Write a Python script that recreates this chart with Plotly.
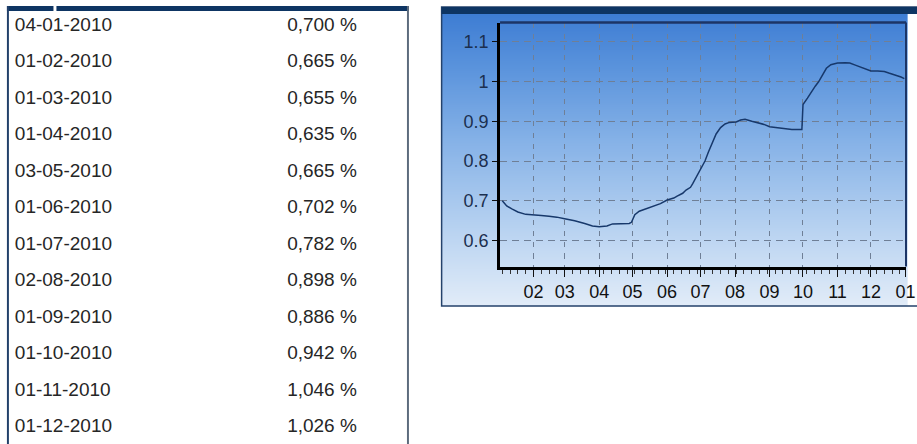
import numpy as np
import plotly.graph_objects as go

W, H = 917, 444

# Monthly fixings shown in the table
table_dates = ["04-01-2010", "01-02-2010", "01-03-2010", "01-04-2010", "03-05-2010", "01-06-2010",
               "01-07-2010", "02-08-2010", "01-09-2010", "01-10-2010", "01-11-2010", "01-12-2010"]
table_rates = [0.700, 0.665, 0.655, 0.635, 0.665, 0.702, 0.782, 0.898, 0.886, 0.942, 1.046, 1.026]

# Daily rate curve
curve_dates = [
    "2010-01-04", "2010-01-08", "2010-01-13", "2010-01-18", "2010-01-25", "2010-02-01", "2010-02-08",
    "2010-02-15", "2010-02-22", "2010-03-01", "2010-03-10", "2010-03-19", "2010-03-26", "2010-04-01",
    "2010-04-08", "2010-04-13", "2010-04-20", "2010-04-28", "2010-04-30", "2010-05-03", "2010-05-07",
    "2010-05-12", "2010-05-17", "2010-05-21", "2010-05-26", "2010-06-01", "2010-06-07", "2010-06-10",
    "2010-06-15", "2010-06-18", "2010-06-22", "2010-06-24", "2010-06-28", "2010-07-01", "2010-07-05",
    "2010-07-08", "2010-07-12", "2010-07-15", "2010-07-19", "2010-07-23", "2010-07-27", "2010-08-02",
    "2010-08-06", "2010-08-10", "2010-08-16", "2010-08-20", "2010-08-27", "2010-09-01", "2010-09-08",
    "2010-09-14", "2010-09-21", "2010-09-30", "2010-10-01", "2010-10-05", "2010-10-08", "2010-10-12",
    "2010-10-15", "2010-10-19", "2010-10-22", "2010-10-26", "2010-11-01", "2010-11-08", "2010-11-12",
    "2010-11-17", "2010-11-22", "2010-11-26", "2010-12-01", "2010-12-07", "2010-12-13", "2010-12-17",
    "2010-12-22", "2010-12-28", "2010-12-31",
]
curve_rates = [
    0.700, 0.687, 0.679, 0.672, 0.666, 0.665, 0.663,
    0.661, 0.659, 0.655, 0.650, 0.643, 0.637, 0.635,
    0.637, 0.642, 0.642, 0.643, 0.646, 0.665, 0.674,
    0.679, 0.683, 0.688, 0.693, 0.702, 0.707, 0.712,
    0.719, 0.727, 0.734, 0.743, 0.764, 0.782, 0.800,
    0.822, 0.848, 0.868, 0.884, 0.893, 0.897, 0.898,
    0.903, 0.905, 0.900, 0.897, 0.892, 0.886, 0.884,
    0.881, 0.879, 0.879, 0.942, 0.958, 0.972, 0.988,
    0.999, 1.018, 1.033, 1.042, 1.046, 1.047, 1.046,
    1.041, 1.035, 1.030, 1.026, 1.026, 1.025, 1.021,
    1.017, 1.011, 1.007,
]

y_ticks = [0.6, 0.7, 0.8, 0.9, 1.0, 1.1]
y_tick_labels = ["0.6", "0.7", "0.8", "0.9", "1", "1.1"]
y_range = [0.535, 1.148]
x_range = ["2010-01-02", "2011-01-01 12:00"]

FONT = "Liberation Sans, Arial, sans-serif"
NAVY = "#0e3563"

# pixel layout of the table and the chart panel
ROW0, ROW_STEP = 26, 36.5
TABLE_L, TABLE_R, TABLE_T = 7, 413, 6
PANEL_L, PANEL_T, PANEL_B = 446, 7, 306
PLOT_L, PLOT_R, PLOT_T, PLOT_B = 505, 915, 22.5, 266.5


def px(x):
    return x / W


def py(y):
    return 1 - y / H


fig = go.Figure()

# Vertical blue gradient behind the chart panel
grad = np.linspace(0, 1, 80)
fig.add_trace(go.Heatmap(
    x=[0, 1], y=grad, z=[[g, g] for g in grad],
    colorscale=[[0.0, "#e2ecf8"], [0.25, "#b9d3f1"], [0.55, "#86b2e7"],
                [0.8, "#5a93dc"], [1.0, "#3a7ad2"]],
    showscale=False, zsmooth="best", hoverinfo="skip",
    xaxis="x", yaxis="y",
))

# Rate curve
fig.add_trace(go.Scatter(
    x=curve_dates, y=curve_rates, mode="lines",
    line=dict(color="#17386b", width=1.5),
    xaxis="x2", yaxis="y2", hoverinfo="skip",
))

# Table text
rows = list(range(len(table_dates)))
rate_labels = [f"{v:.3f}".replace(".", ",") + " %" for v in table_rates]
for col_x, labels in ((15, table_dates), (290, rate_labels)):
    fig.add_trace(go.Scatter(
        x=[col_x] * len(rows), y=rows, text=labels, mode="text",
        textposition="middle right", textfont=dict(size=19, color="#262626", family=FONT),
        xaxis="x3", yaxis="y3", hoverinfo="skip",
    ))


def rect(x0, x1, y0, y1, **kw):
    return dict(type="rect", xref="paper", yref="paper",
                x0=px(x0), x1=px(x1), y0=py(y1), y1=py(y0), **kw)


def seg(x0, y0, x1, y1, color, width):
    return dict(type="line", xref="paper", yref="paper",
                x0=px(x0), x1=px(x1), y0=py(y0), y1=py(y1),
                line=dict(color=color, width=width))


shapes = [
    # table frame
    rect(TABLE_L, 54, TABLE_T, TABLE_T + 5, fillcolor=NAVY, line_width=0),
    rect(57, TABLE_R, TABLE_T, TABLE_T + 5, fillcolor=NAVY, line_width=0),
    rect(TABLE_L, TABLE_L + 2, TABLE_T, H, fillcolor="#22406a", line_width=0),
    rect(TABLE_R - 2, TABLE_R, TABLE_T, H, fillcolor="#5d6b7d", line_width=0),
    # chart panel frame and title bar
    rect(PANEL_L, 935, PANEL_T, PANEL_B, line=dict(color="#24426b", width=1.5)),
    rect(PANEL_L, 935, PANEL_T, PANEL_T + 7, fillcolor=NAVY, line_width=0),
    # plot area top / right borders
    seg(PLOT_L, PLOT_T, PLOT_R, PLOT_T, "#1c3566", 2.5),
    seg(PLOT_R, PLOT_T, PLOT_R, PLOT_B, "#1c3566", 2),
]

fig.update_layout(
    width=W, height=H, margin=dict(l=0, r=0, t=0, b=0),
    paper_bgcolor="white", plot_bgcolor="rgba(0,0,0,0)",
    showlegend=False, shapes=shapes,
    xaxis=dict(domain=[px(PANEL_L), 1], range=[0, 1], visible=False, fixedrange=True),
    yaxis=dict(domain=[py(PANEL_B), py(PANEL_T)], range=[0, 1], visible=False, fixedrange=True),
    xaxis2=dict(
        domain=[px(PLOT_L), px(PLOT_R)], anchor="y2", type="date", range=x_range,
        tickformat="%m", dtick="M1", tick0="2010-01-01", ticklabeloverflow="allow",
        showgrid=True, gridcolor="#6f7f96", griddash="5px,6px", gridwidth=1,
        ticks="outside", ticklen=7, tickcolor="#111", tickwidth=1,
        minor=dict(ticks="outside", ticklen=4, dtick=7 * 86400000, tick0="2010-01-04",
                   tickcolor="#333", showgrid=False),
        showline=True, linecolor="black", linewidth=3,
        tickfont=dict(size=18, color="#111111", family=FONT),
        zeroline=False,
    ),
    yaxis2=dict(
        domain=[py(PLOT_B), py(PLOT_T)], anchor="x2", range=y_range,
        tickvals=y_ticks, ticktext=y_tick_labels,
        showgrid=True, gridcolor="#6f7f96", griddash="7px,5px", gridwidth=1,
        ticks="outside", ticklen=5, tickcolor="#111",
        showline=True, linecolor="black", linewidth=3,
        tickfont=dict(size=18, color="#1b2f4f", family=FONT),
        zeroline=False,
    ),
    xaxis3=dict(domain=[0, 1], range=[0, W], visible=False, anchor="y3", fixedrange=True),
    yaxis3=dict(domain=[0, 1], range=[(H - ROW0) / ROW_STEP, -ROW0 / ROW_STEP],
                visible=False, anchor="x3", fixedrange=True),
)

fig.write_html("out.html", config={"displayModeBar": False})
